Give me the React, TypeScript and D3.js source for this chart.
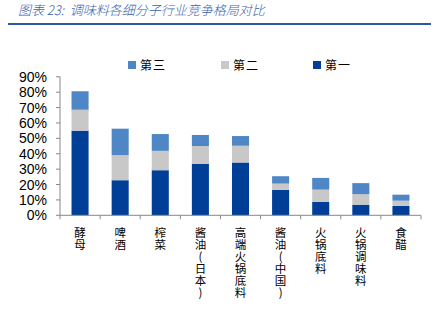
import React from "react";
import * as d3 from "d3";

const categories = ["酵母", "啤酒", "榨菜", "酱油（日本）", "高端火锅底料", "酱油（中国）", "火锅底料", "火锅调味料", "食醋"];
const first = [55.0, 22.8, 29.3, 33.5, 34.3, 16.5, 8.7, 6.9, 6.1];
const second = [13.6, 16.3, 12.6, 11.5, 10.9, 4.1, 8.0, 6.8, 3.4];
const third = [12.0, 17.2, 10.9, 7.2, 6.3, 4.8, 7.6, 7.2, 3.9];
const yTicks = [0, 10, 20, 30, 40, 50, 60, 70, 80, 90];
const seriesNames = ["第一", "第二", "第三"];
const colors = ["#003f98", "#c8c8c8", "#4f86c6"];

export default function App() {
  const W = 443, H = 327;
  const x0 = 60, x1 = 421, yTop = 76.8, yBot = 215.3;
  const x = d3.scaleBand<string>().domain(categories).range([x0, x1]).paddingInner(0.575).paddingOuter(0.2875);
  const y = d3.scaleLinear().domain([0, 90]).range([yBot, yTop]);
  const stackData = categories.map((c, i) => ({ c, s0: first[i], s1: second[i], s2: third[i] }));
  const stacked = d3.stack<any>().keys(["s0", "s1", "s2"])(stackData);
  const step = (x1 - x0) / categories.length;
  const font = "'Liberation Sans', Arial, sans-serif";
  const cjk = "'Noto Sans CJK SC', sans-serif";
  const legend = [
    { name: seriesNames[2], color: colors[2], x: 128 },
    { name: seriesNames[1], color: colors[1], x: 221 },
    { name: seriesNames[0], color: colors[0], x: 313 },
  ];
  return (
    <svg width={W} height={H} style={{ position: "absolute", left: 0, top: 0, background: "#fff" }}>
      <text x={18} y={15} fontFamily={cjk} fontStyle="italic" fontSize={13} fill="#3a64b0" fontWeight={300} xmlSpace="preserve">
        {"图表 23:  调味料各细分子行业竞争格局对比"}
      </text>
      <line x1={8} x2={431} y1={24} y2={24} stroke="#2b57a4" strokeWidth={2} />
      {legend.map((l) => (
        <g key={l.name}>
          <rect x={l.x} y={61} width={8} height={8} fill={l.color} />
          <text x={l.x + 12} y={69.5} fontFamily={cjk} fontSize={12} fill="#000" letterSpacing={1}>{l.name}</text>
        </g>
      ))}
      {stacked.map((layer, si) => (
        <g key={si} fill={colors[si]}>
          {layer.map((d, i) => (
            <rect key={i} x={x(categories[i])!} width={x.bandwidth()} y={y(d[1])} height={y(d[0]) - y(d[1])} />
          ))}
        </g>
      ))}
      <line x1={x0} x2={x0} y1={yTop} y2={yBot} stroke="#888" />
      {yTicks.map((t) => (
        <g key={t}>
          <line x1={x0 - 4} x2={x0} y1={y(t)} y2={y(t)} stroke="#888" />
          <text x={47} y={y(t) + 5} textAnchor="end" fontFamily={font} fontSize={14} fill="#000">{t}%</text>
        </g>
      ))}
      <line x1={x0} x2={x1} y1={yBot} y2={yBot} stroke="#888" />
      {d3.range(categories.length + 1).map((i) => (
        <line key={i} x1={x0 + i * step} x2={x0 + i * step} y1={yBot} y2={yBot + 4} stroke="#888" />
      ))}
      {categories.map((c) => (
        <text key={c} x={x(c)! + x.bandwidth() / 2} y={227} fontFamily={cjk} fontSize={11.5} fill="#000"
          letterSpacing={0.5}
          style={{ writingMode: "vertical-rl" as any, textOrientation: "upright" as any }}>
          {c.replace("（", "(").replace("）", ")")}
        </text>
      ))}
    </svg>
  );
}
